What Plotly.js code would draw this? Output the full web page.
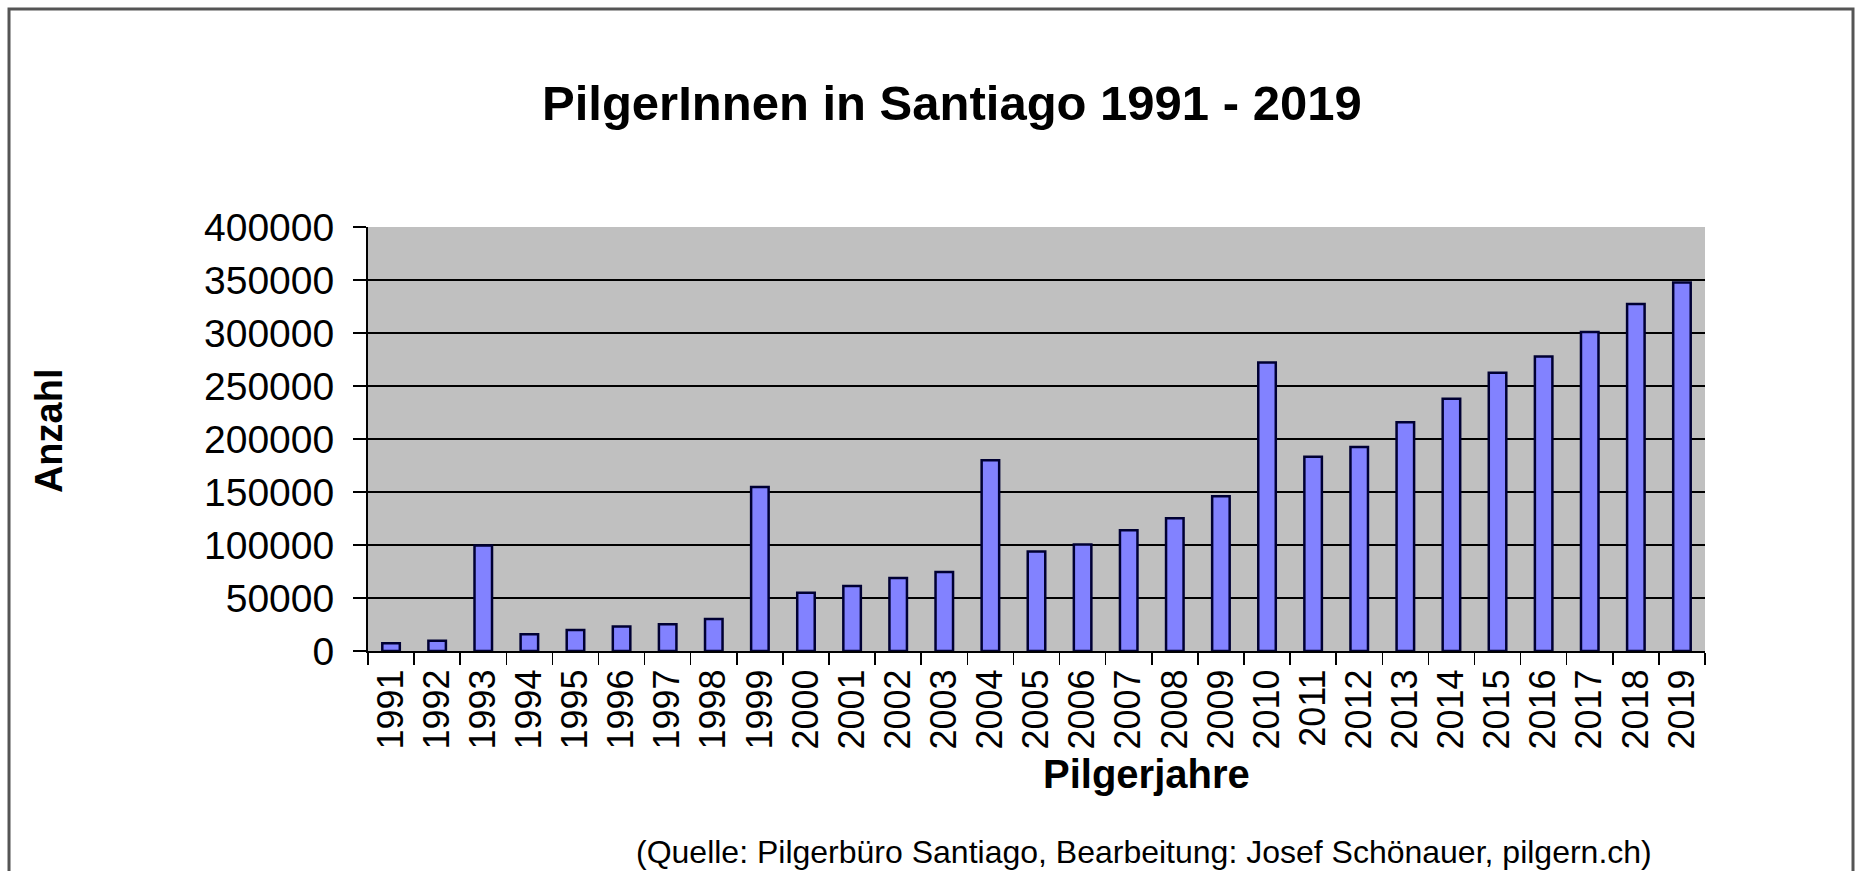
<!DOCTYPE html>
<html>
<head>
<meta charset="utf-8">
<script src="https://cdn.plot.ly/plotly-3.0.1.min.js"></script>
<style>
html,body{margin:0;padding:0;background:#fff;}
#chart{width:1860px;height:871px;}
</style>
</head>
<body>
<div id="chart"></div>
<script>
const years = ["1991","1992","1993","1994","1995","1996","1997","1998","1999","2000",
  "2001","2002","2003","2004","2005","2006","2007","2008","2009","2010",
  "2011","2012","2013","2014","2015","2016","2017","2018","2019"];
const pilgrims = [7274, 9764, 99436, 15863, 19821, 23218, 25179, 30126, 154613, 55004,
  61418, 68952, 74614, 179944, 93924, 100377, 114026, 125141, 145877, 272135,
  183366, 192488, 215880, 237886, 262516, 277854, 301036, 327342, 347578];
const yTicks = [0, 50000, 100000, 150000, 200000, 250000, 300000, 350000, 400000];
const titleText = "PilgerInnen in Santiago 1991 - 2019";
const xTitle = "Pilgerjahre";
const yTitle = "Anzahl";
const sourceText = "(Quelle: Pilgerbüro Santiago, Bearbeitung: Josef Schönauer, pilgern.ch)";

const FONT = "Liberation Sans, Arial, sans-serif";

const trace = {
  type: "bar",
  x: years,
  y: pilgrims,
  marker: {color: "#8282ff", line: {color: "#000033", width: 2.5}},
  hoverinfo: "x+y"
};

const layout = {
  width: 1860, height: 871,
  margin: {l: 368, r: 155, t: 227, b: 220, pad: 0},
  paper_bgcolor: "#ffffff",
  plot_bgcolor: "#c0c0c0",
  bargap: 0.62,
  showlegend: false,
  font: {family: FONT, color: "#000"},
  xaxis: {
    type: "category",
    tickangle: -90,
    tickfont: {size: 36, family: FONT, color: "#000"},
    ticks: "outside", tickson: "boundaries", ticklen: 12, tickwidth: 1.5, tickcolor: "#000",
    ticklabelstandoff: 2,
    showline: true, linecolor: "#000", linewidth: 2,
    showgrid: false, zeroline: false, fixedrange: true
  },
  yaxis: {
    range: [0, 400000],
    tickvals: yTicks,
    ticktext: yTicks.map(v => String(v)),
    tickfont: {size: 39, family: FONT, color: "#000"},
    ticks: "outside", ticklen: 13, tickwidth: 1.5, tickcolor: "#000",
    ticklabelstandoff: 11,
    showline: true, linecolor: "#000", linewidth: 2,
    showgrid: true, gridcolor: "#000", gridwidth: 1.5,
    zeroline: false, fixedrange: true
  },
  annotations: [
    {text: "<b>" + titleText + "</b>", xref: "paper", yref: "paper", x: 0.4368, y: 1.292,
     xanchor: "center", yanchor: "middle", showarrow: false, font: {size: 49, family: FONT, color: "#000"}},
    {text: "<b>" + xTitle + "</b>", xref: "paper", yref: "paper", x: 0.5826, y: -0.29,
     xanchor: "center", yanchor: "middle", showarrow: false, font: {size: 40, family: FONT, color: "#000"}},
    {text: "<b>" + yTitle + "</b>", xref: "paper", yref: "paper", x: -0.2386, y: 0.521,
     xanchor: "center", yanchor: "middle", textangle: -90, showarrow: false, font: {size: 38, family: FONT, color: "#000"}},
    {text: sourceText, xref: "paper", yref: "paper", x: 0.5804, y: -0.474,
     xanchor: "center", yanchor: "middle", showarrow: false, font: {size: 32, family: FONT, color: "#000"}}
  ],
  shapes: [
    {type: "rect", xref: "paper", yref: "paper", x0: -0.2685, x1: 1.1107, y0: -0.6, y1: 1.514,
     line: {color: "#555555", width: 3}, fillcolor: "rgba(0,0,0,0)", layer: "below"}
  ]
};

Plotly.newPlot("chart", [trace], layout, {displayModeBar: false, staticPlot: true});
</script>
</body>
</html>
